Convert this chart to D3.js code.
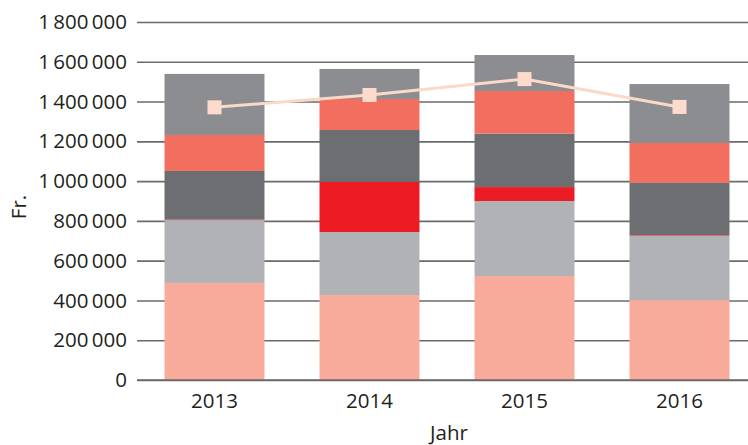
<!DOCTYPE html>
<html>
<head>
<meta charset="utf-8">
<script src="https://cdn.jsdelivr.net/npm/d3@7"></script>
<style>
  html, body { margin: 0; padding: 0; background: #fff; }
  svg { display: block; }
  text { font-family: "Open Sans", "Noto Sans", sans-serif; fill: #231f20; }
</style>
</head>
<body>
<svg id="chart" width="748" height="445"></svg>
<script>
const years = ["2013", "2014", "2015", "2016"];
const seriesNames = ["s1", "s2", "s3", "s4", "s5", "s6"];
const s1 = [488000, 427000, 523000, 402000];
const s2 = [316000, 317000, 377000, 324000];
const s3 = [3000, 253000, 70000, 3000];
const s4 = [244000, 260000, 269000, 263000];
const s5 = [181000, 156000, 214000, 200000];
const s6 = [307000, 151000, 181000, 296000];
const lineValues = [1371000, 1433000, 1513000, 1373000];
const seriesColors = ["#f8aa9b", "#b1b2b6", "#ed1c24", "#6d6e72", "#f26f5f", "#8c8d91"];
const yTicks = [0, 200000, 400000, 600000, 800000, 1000000, 1200000, 1400000, 1600000, 1800000];
const yLabel = "Fr.";
const xLabel = "Jahr";

(function () {
const seriesValues = [s1, s2, s3, s4, s5, s6];
const table = years.map((yr, i) => {
  const row = { year: yr };
  seriesNames.forEach((n, k) => row[n] = seriesValues[k][i]);
  return row;
});

const svg = d3.select("#chart");
const W = 748;
const mLeft = 137, mTop = 22, mBottom = 380;
const fs = 20.5;

const x = d3.scaleBand().domain(years).range([mLeft, 757])
  .paddingInner(0.355).paddingOuter(0.1775);
const y = d3.scaleLinear().domain([0, 1800000]).range([mBottom, mTop]);

const fmt = v => d3.format(",")(v).replace(/,/g, "\u2009");

const yAxis = d3.axisLeft(y).tickValues(yTicks).tickSize(-(W - mLeft)).tickPadding(10).tickFormat(fmt);
const gy = svg.append("g").attr("transform", `translate(${mLeft},0)`).call(yAxis);
gy.select(".domain").remove();
gy.selectAll(".tick line").attr("stroke", "#6a6a6a").attr("stroke-width", 1.6);
gy.selectAll(".tick text").attr("font-size", fs).attr("x", -10).style("font-family", "'Open Sans', sans-serif").attr("fill", "#231f20");

const stack = d3.stack().keys(seriesNames);
const layers = stack(table);
svg.append("g").selectAll("g").data(layers).join("g")
  .attr("fill", (d, i) => seriesColors[i])
  .selectAll("rect").data(d => d).join("rect")
  .attr("x", d => x(d.data.year))
  .attr("width", x.bandwidth())
  .attr("y", d => y(d[1]))
  .attr("height", d => y(d[0]) - y(d[1]));

svg.append("line").attr("x1", mLeft).attr("x2", W).attr("y1", y(0)).attr("y2", y(0))
  .attr("stroke", "#6a6a6a").attr("stroke-width", 1.6);

const xAxis = d3.axisBottom(x).tickSize(0).tickPadding(13);
const gx = svg.append("g").attr("transform", `translate(0,${mBottom})`).call(xAxis);
gx.select(".domain").remove();
gx.selectAll(".tick text").attr("font-size", fs).style("font-family", "'Open Sans', sans-serif").attr("fill", "#231f20");

const cx = d => x(d) + x.bandwidth() / 2;
const line = d3.line().x((d, i) => cx(years[i])).y(d => y(d));
svg.append("path").datum(lineValues).attr("d", line)
  .attr("fill", "none").attr("stroke", "#fcd8c8").attr("stroke-width", 3);
const ms = 14;
svg.append("g").selectAll("rect").data(lineValues).join("rect")
  .attr("x", (d, i) => cx(years[i]) - ms / 2)
  .attr("y", d => y(d) - ms / 2)
  .attr("width", ms).attr("height", ms)
  .attr("fill", "#fddbcc");

svg.append("text").attr("transform", `translate(26,207) rotate(-90)`)
  .attr("text-anchor", "middle").attr("font-size", fs).text(yLabel);
svg.append("text").attr("x", 449).attr("y", 440).attr("text-anchor", "middle")
  .attr("font-size", fs).text(xLabel);
})();
</script>
</body>
</html>
